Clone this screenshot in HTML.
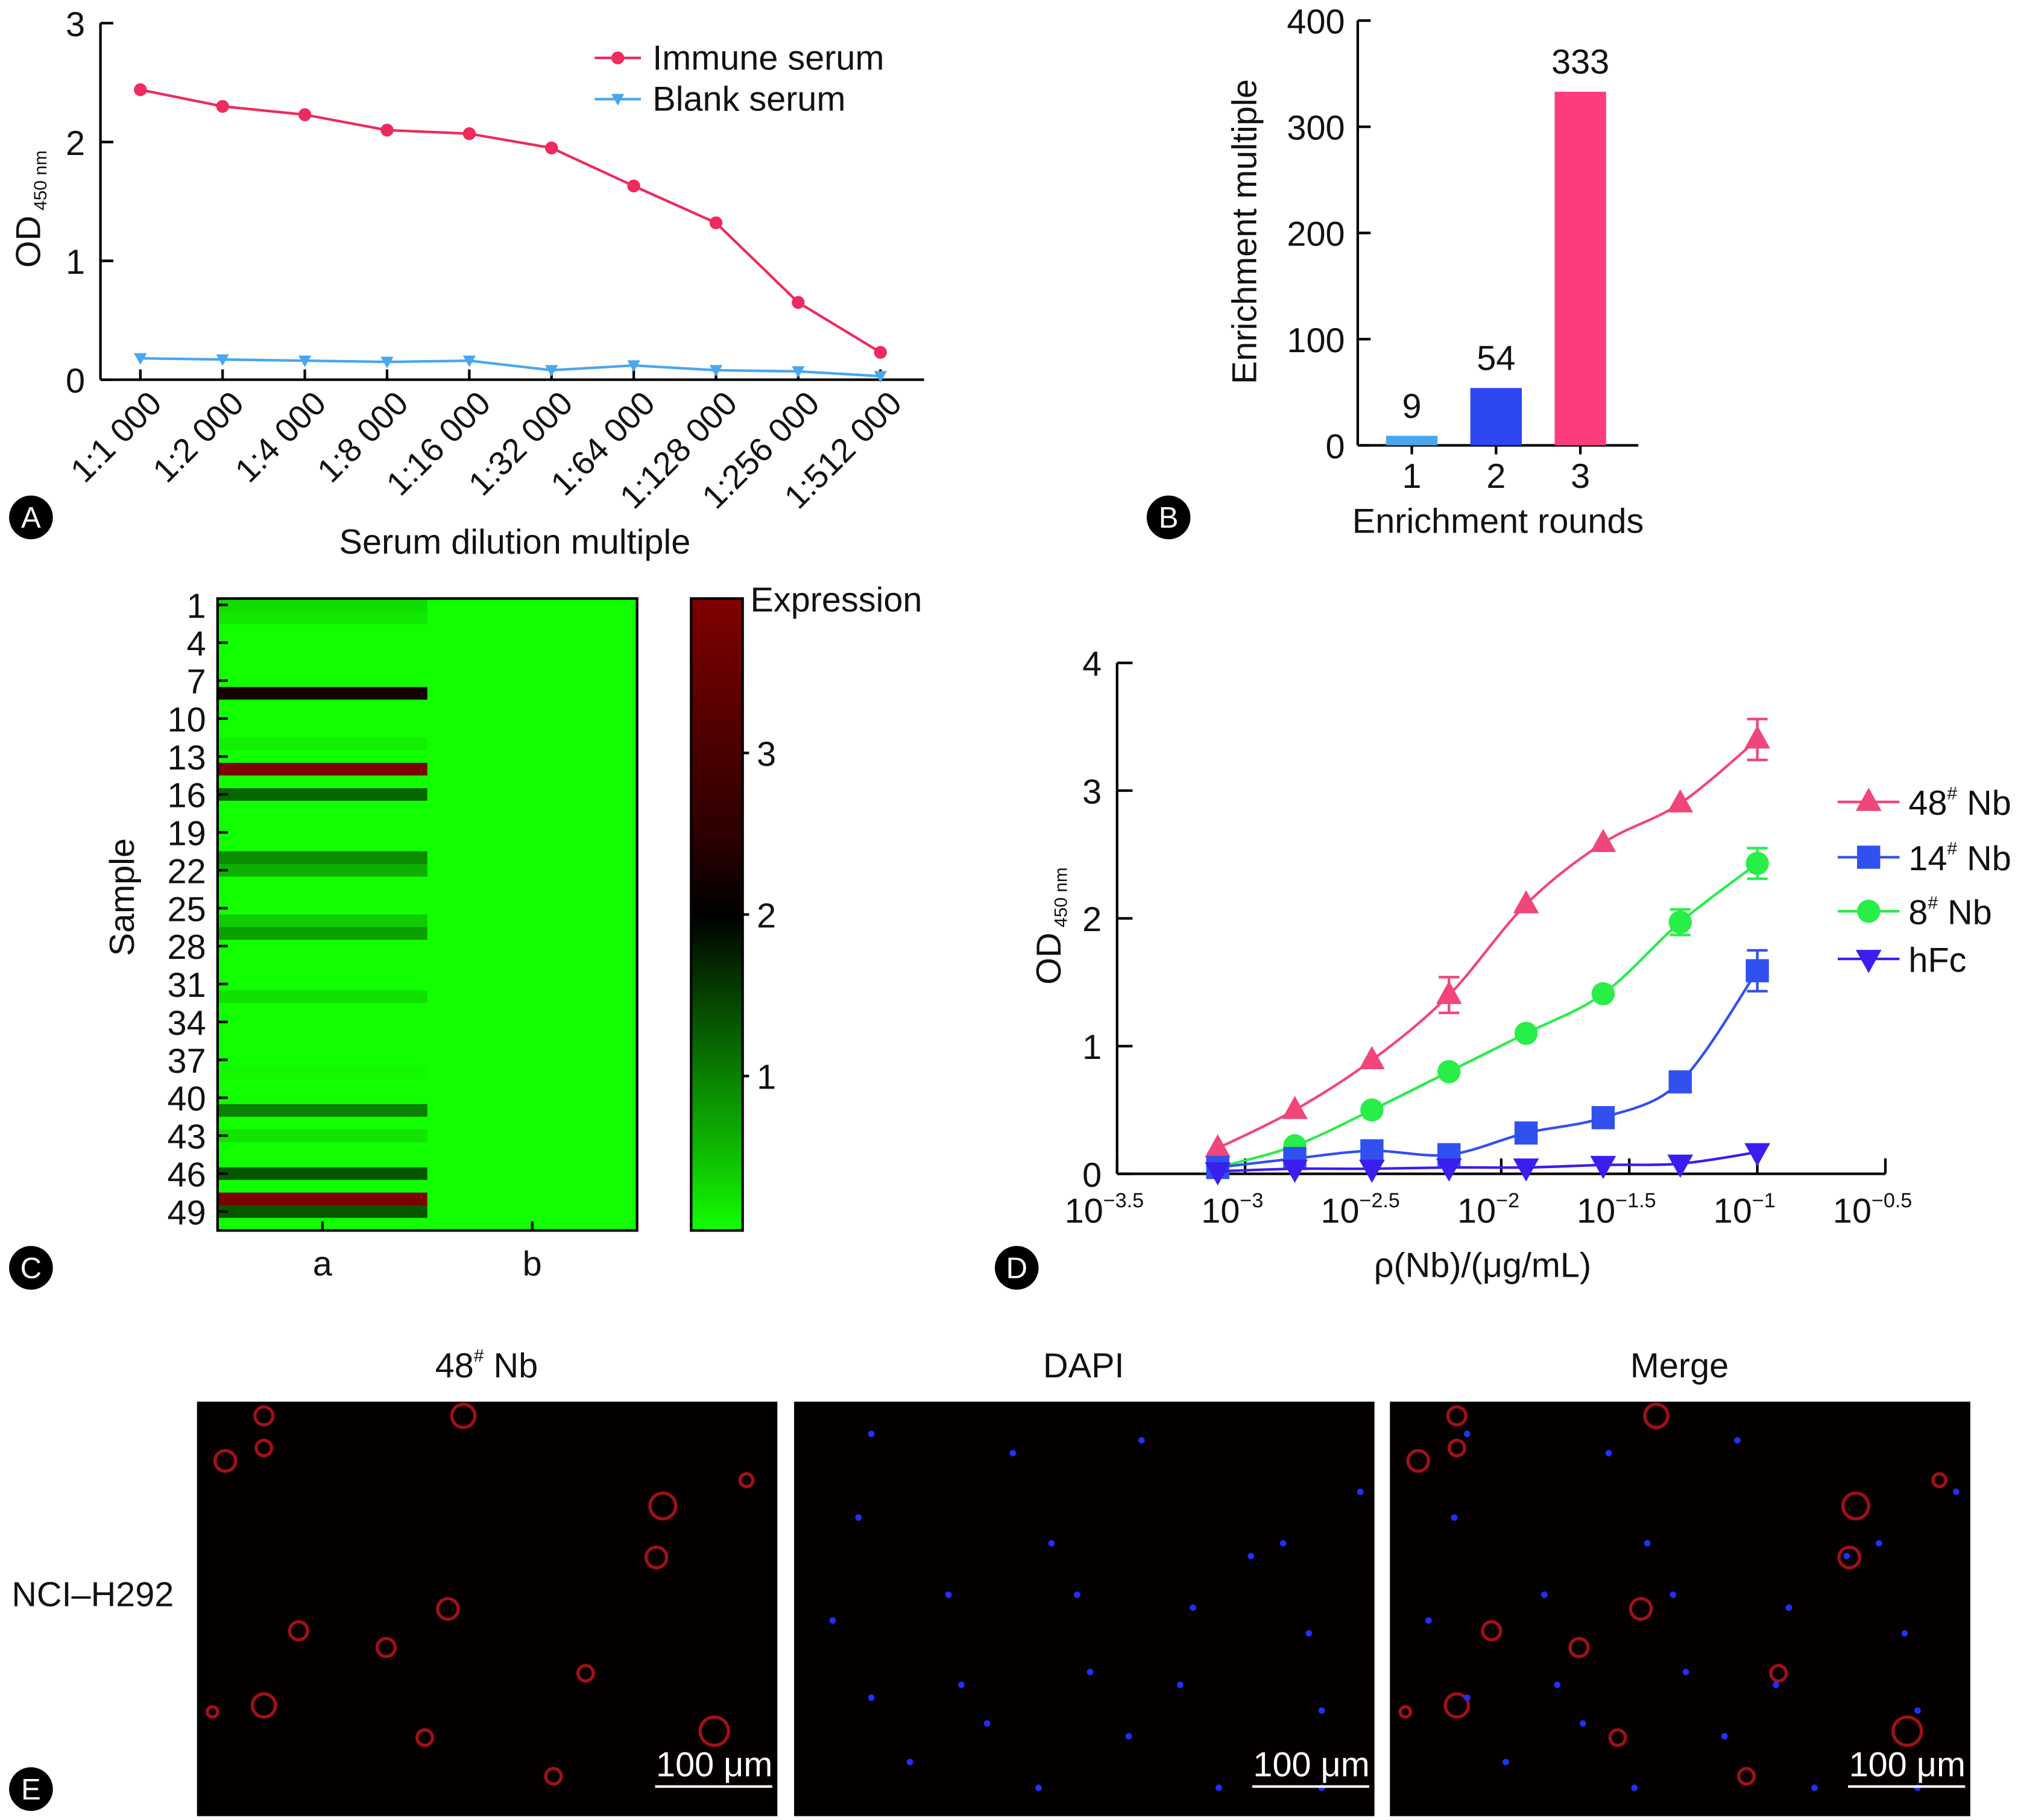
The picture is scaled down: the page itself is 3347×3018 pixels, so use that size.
<!DOCTYPE html>
<html><head><meta charset="utf-8"><style>
html,body{margin:0;padding:0;background:#fff}
svg{display:block}
text{font-family:"Liberation Sans",sans-serif;fill:#111}
</style></head><body>
<svg id="fig" width="3347" height="3018" viewBox="0 0 1568 1414" xmlns="http://www.w3.org/2000/svg"></svg>
<script>
// ---- Panel A data ----
const aCategories=["1:1 000","1:2 000","1:4 000","1:8 000","1:16 000","1:32 000","1:64 000","1:128 000","1:256 000","1:512 000"];
const aImmune=[2.44,2.30,2.23,2.10,2.07,1.95,1.63,1.32,0.65,0.23];
const aBlank=[0.18,0.17,0.16,0.15,0.16,0.08,0.12,0.08,0.07,0.03];
const aTicks=[0,1,2,3];
// ---- Panel B data ----
const bCategories=["1","2","3"];
const bValues=[9,54,333];
const bTicks=[0,100,200,300,400];
// ---- Panel C data ----
const cColumns=["a","b"];
const cRowLabels=[1,4,7,10,13,16,19,22,25,28,31,34,37,40,43,46,49];
const cExprA=[0.27,0.18,0,0,0,0,0,2.1,0,0,0,0.12,0,3.9,0,1.2,0,0,0,0,0.9,0.62,0,0,0,0.4,0.75,0,0,0,0,0.25,0,0,0,0,0,0.05,0,0,1.0,0,0.21,0,0,1.31,0,3.9,1.31,0];
const cExprB=new Array(50).fill(0);
const cBarTicks=[1,2,3];
// ---- Panel D data ----
const dLogX=[-3.107,-2.806,-2.505,-2.204,-1.903,-1.602,-1.301,-1.0];
const d48=[0.2,0.5,0.89,1.4,2.11,2.59,2.9,3.4];
const d48err=[0,0,0,0.14,0,0,0,0.16];
const d14=[0.05,0.12,0.18,0.15,0.32,0.44,0.72,1.59];
const d14err=[0,0,0,0,0,0,0,0.16];
const d8=[0.05,0.22,0.5,0.8,1.1,1.41,1.97,2.43];
const d8err=[0,0,0,0,0,0,0.1,0.12];
const dHfc=[0.02,0.04,0.04,0.05,0.05,0.07,0.08,0.17];
const dYTicks=[0,1,2,3,4];
const dXTicks=[-3.5,-3,-2.5,-2,-1.5,-1,-0.5];
const dXTickLabels=["−3.5","−3","−2.5","−2","−1.5","−1","−0.5"];

const NS="http://www.w3.org/2000/svg";
const svg=document.getElementById('fig');
function el(tag,attrs,parent,txt){const e=document.createElementNS(NS,tag);for(const k in attrs)e.setAttribute(k,attrs[k]);if(txt!==undefined)e.textContent=txt;(parent||svg).appendChild(e);return e;}
function grp(name){const g=el('g',{});return g;}
function smooth(pts){let d=`M${pts[0][0]},${pts[0][1]}`;for(let i=0;i<pts.length-1;i++){const p0=pts[i-1]||pts[i],p1=pts[i],p2=pts[i+1],p3=pts[i+2]||p2;d+=` C${p1[0]+(p2[0]-p0[0])/6},${p1[1]+(p2[1]-p0[1])/6} ${p2[0]-(p3[0]-p1[0])/6},${p2[1]-(p3[1]-p1[1])/6} ${p2[0]},${p2[1]}`;}return d;}
function badge(x,y,l,name){const g=grp(name);el('circle',{cx:x,cy:y,r:17,fill:'#000'},g);const t=el('text',{x:x,y:y+8,'text-anchor':'middle','font-size':23,style:'fill:#fff'},g,l);}

// ===== Panel A =====
(function(){
const g=grp('panel-a');
const x0=78,x1=718,yb=295,yt=18;
const xs=i=>109+i*63.9, ys=v=>yb-(v/3)*(yb-yt);
el('line',{x1:x0,y1:yt,x2:x0,y2:yb,stroke:'#000','stroke-width':2},g);
el('line',{x1:x0,y1:yb,x2:x1,y2:yb,stroke:'#000','stroke-width':2},g);
aTicks.forEach(v=>{el('line',{x1:x0,x2:x0+10,y1:ys(v),y2:ys(v),stroke:'#000','stroke-width':2},g);const t=el('text',{x:x0-12,y:ys(v)+10,'text-anchor':'end','font-size':27},g,v);});
aCategories.forEach((c,i)=>{el('line',{x1:xs(i),x2:xs(i),y1:yb,y2:yb-8,stroke:'#000','stroke-width':2},g);const t=el('text',{x:0,y:0,'text-anchor':'end','font-size':26,transform:`translate(${xs(i)+18},${yb+20}) rotate(-45)`},g,c);});
const yl=el('text',{x:0,y:0,'font-size':27,transform:'translate(31,208) rotate(-90)'},g);
yl.innerHTML='OD<tspan font-size="14" dy="5" dx="4">450 nm</tspan>';
const xt=el('text',{x:400,y:430,'text-anchor':'middle','font-size':27},g,'Serum dilution multiple');
const lp=el('polyline',{points:aImmune.map((v,i)=>xs(i)+','+ys(v)).join(' '),fill:'none',stroke:'#ee2a5e','stroke-width':2},g);
aImmune.forEach((v,i)=>{const c=el('circle',{cx:xs(i),cy:ys(v),r:5,fill:'#ee2a5e'},g);});
const lb=el('polyline',{points:aBlank.map((v,i)=>xs(i)+','+ys(v)).join(' '),fill:'none',stroke:'#4aa6ee','stroke-width':2},g);
aBlank.forEach((v,i)=>{const x=xs(i),y=ys(v);const p=el('polygon',{points:`${x-5},${y-4} ${x+5},${y-4} ${x},${y+5}`,fill:'#4aa6ee'},g);});
const lg=grp('a-legend');
el('line',{x1:462,x2:498,y1:45,y2:45,stroke:'#ee2a5e','stroke-width':2},lg);el('circle',{cx:480,cy:45,r:5,fill:'#ee2a5e'},lg);
el('text',{x:507,y:54,'font-size':27},lg,'Immune serum');
el('line',{x1:462,x2:498,y1:77,y2:77,stroke:'#4aa6ee','stroke-width':2},lg);el('polygon',{points:'475,73 485,73 480,82',fill:'#4aa6ee'},lg);
el('text',{x:507,y:86,'font-size':27},lg,'Blank serum');
})();
badge(24,402,'A','badge-a');

// ===== Panel B =====
(function(){
const g=grp('panel-b');
const x0=1055,x1=1273,yb=346,yt=16;
const ys=v=>yb-v/400*(yb-yt);const xs=i=>1097+i*65.5;
el('line',{x1:x0,y1:yt,x2:x0,y2:yb,stroke:'#000','stroke-width':2},g);
el('line',{x1:x0,y1:yb,x2:x1,y2:yb,stroke:'#000','stroke-width':2},g);
bTicks.forEach(v=>{el('line',{x1:x0,x2:x0+10,y1:ys(v),y2:ys(v),stroke:'#000','stroke-width':2},g);const t=el('text',{x:x0-10,y:ys(v)+10,'text-anchor':'end','font-size':27},g,v);});
const cols=['#4aa6ee','#2c46f2','#fd3c7c'];
bValues.forEach((v,i)=>{const r=el('rect',{x:xs(i)-20,y:ys(v),width:40,height:yb-ys(v),fill:cols[i]},g);
const t=el('text',{x:xs(i),y:ys(v)-14,'text-anchor':'middle','font-size':27},g,v);
el('line',{x1:xs(i),x2:xs(i),y1:yb,y2:yb+7,stroke:'#000','stroke-width':2},g);
const c=el('text',{x:xs(i),y:yb+33,'text-anchor':'middle','font-size':27},g,bCategories[i]);});
const xt=el('text',{x:1164,y:414,'text-anchor':'middle','font-size':27},g,'Enrichment rounds');
const yt2=el('text',{x:0,y:0,'text-anchor':'middle','font-size':27,transform:'translate(976,180) rotate(-90)'},g,'Enrichment multiple');
})();
badge(908,402,'B','badge-b');

// ===== Panel C =====
function exprColor(v){if(v<=2){const f=1-v/2;return `rgb(${Math.round(18*f)},${Math.round(255*f)},0)`;}const f=Math.min(1,(v-2)/1.96);return `rgb(${Math.round(16+112*f)},0,0)`;}
(function(){
const g=grp('panel-c');
const x0=169,xm=332,x1=495,y0=465,y1=956,rh=(y1-y0)/50;
[cExprA,cExprB].forEach((arr,ci)=>{arr.forEach((v,i)=>{const r=el('rect',{x:ci?xm:x0,y:y0+i*rh,width:xm-x0+0.5,height:rh+0.4,fill:exprColor(v)},g);});});
el('rect',{x:x0,y:y0,width:x1-x0,height:y1-y0,fill:'none',stroke:'#000','stroke-width':2},g);
cRowLabels.forEach(n=>{const y=y0+(n-1)*rh+rh/2;el('line',{x1:x0,x2:x0+8,y1:y,y2:y,stroke:'#000','stroke-width':2},g);const t=el('text',{x:x0-9,y:y+10,'text-anchor':'end','font-size':27},g,n);});
cColumns.forEach((c,i)=>{const x=i?(xm+x1)/2:(x0+xm)/2;el('line',{x1:x,x2:x,y1:y1,y2:y1-7,stroke:'#000','stroke-width':2},g);const t=el('text',{x:x,y:991,'text-anchor':'middle','font-size':27},g,c);});
const yt=el('text',{x:0,y:0,'text-anchor':'middle','font-size':27,transform:'translate(104,697) rotate(-90)'},g,'Sample');
// colorbar
const defs=el('defs',{},g);const lgd=el('linearGradient',{id:'cb',x1:0,y1:1,x2:0,y2:0},defs);
const cb0=961.5,cbu=125.5,cbTop=465,cbBot=956;
[0,0.5,1,1.5,2,2.5,3,3.5,3.96].forEach(v=>{const off=(cb0-v*cbu-cbBot)/(cbTop-cbBot);el('stop',{offset:Math.max(0,Math.min(1,off)),'stop-color':exprColor(v)},lgd);});
const cb=el('rect',{x:537,y:cbTop,width:40,height:cbBot-cbTop,fill:'url(#cb)',stroke:'#000','stroke-width':2},g);
cBarTicks.forEach(v=>{const y=cb0-v*cbu;el('line',{x1:577,x2:582,y1:y,y2:y,stroke:'#000','stroke-width':2},g);const t=el('text',{x:588,y:y+10,'font-size':27},g,v);});
const ct=el('text',{x:583,y:475,'font-size':27},g,'Expression');
})();
badge(24,985,'C','badge-c');

// ===== Panel D =====
(function(){
const g=grp('panel-d');
const x0=868,x1=1465,yb=912,yt=515;
const xs=l=>x0+(l+3.5)/3*(x1-x0), ys=v=>yb-v/4*(yb-yt);
el('line',{x1:x0,y1:yt,x2:x0,y2:yb,stroke:'#000','stroke-width':2},g);
el('line',{x1:x0,y1:yb,x2:x1,y2:yb,stroke:'#000','stroke-width':2},g);
dYTicks.forEach(v=>{el('line',{x1:x0,x2:x0+12,y1:ys(v),y2:ys(v),stroke:'#000','stroke-width':2},g);const t=el('text',{x:x0-12,y:ys(v)+10,'text-anchor':'end','font-size':27},g,v);});
dXTicks.forEach((l,i)=>{el('line',{x1:xs(l),x2:xs(l),y1:yb,y2:yb-12,stroke:'#000','stroke-width':2},g);const t=el('text',{x:xs(l)-10,y:yb+38,'text-anchor':'middle','font-size':27},g);t.innerHTML='10<tspan font-size="16" dy="-12">'+dXTickLabels[i]+'</tspan>';});
const yl=el('text',{x:0,y:0,'font-size':27,transform:'translate(824,765) rotate(-90)'},g);
yl.innerHTML='OD<tspan font-size="14" dy="5" dx="4">450 nm</tspan>';
const xt=el('text',{x:1152,y:992,'text-anchor':'middle','font-size':27},g,'ρ(Nb)/(μg/mL)');
function marker(p,x,y,c){if(p==='tri')return el('polygon',{points:`${x},${y-11} ${x-10},${y+7} ${x+10},${y+7}`,fill:c},g);if(p==='sq')return el('rect',{x:x-9,y:y-9,width:18,height:18,fill:c},g);if(p==='circ')return el('circle',{cx:x,cy:y,r:9,fill:c},g);return el('polygon',{points:`${x-10},${y-7} ${x+10},${y-7} ${x},${y+11}`,fill:c},g);}
const series=[[d48,d48err,'#f2457a','tri','48'],[d8,d8err,'#28ee48','circ','8'],[d14,d14err,'#3050f0','sq','14'],[dHfc,null,'#3a1ef0','itri','hfc']];
series.forEach(([vals,err,c,m,nm])=>{const pts=vals.map((v,i)=>[xs(dLogX[i]),ys(v)]);const p=el('path',{d:smooth(pts),fill:'none',stroke:c,'stroke-width':2},g);
vals.forEach((v,i)=>{const x=xs(dLogX[i]),y=ys(v);if(err&&err[i]){const e=err[i];el('path',{d:`M${x},${ys(v+e)}V${ys(v-e)}M${x-8},${ys(v+e)}H${x+8}M${x-8},${ys(v-e)}H${x+8}`,stroke:c,'stroke-width':2,fill:'none'},g);}const mk=marker(m,x,y,c);});});
const lg=grp('d-legend');
[['48','#f2457a','tri',623],['14','#3050f0','sq',666],['8','#28ee48','circ',708],['hfc','#3a1ef0','itri',745]].forEach(([n,c,m,y])=>{el('line',{x1:1428,x2:1476,y1:y,y2:y,stroke:c,'stroke-width':2},lg);const mk=marker(m,1452,y,c);lg.appendChild(mk);
const t=el('text',{x:1483,y:y+10,'font-size':27},lg);if(n==='hfc')t.textContent='hFc';else t.innerHTML=n+'<tspan font-size="14" dy="-12">#</tspan><tspan dy="12"> Nb</tspan>';});
})();
badge(790,985,'D','badge-d');

// ===== Panel E =====
(function(){
const g=grp('panel-e');
const panels=[[153,'48# Nb','nb'],[617,'DAPI','dapi'],[1080,'Merge','merge']];
const red=[[205,1100,7],[175,1135,8],[205,1125,6],[360,1100,9],[515,1170,10],[510,1210,8],[348,1250,8],[232,1267,7],[165,1330,4],[205,1325,9],[555,1345,11],[455,1300,6],[330,1350,6],[580,1150,5],[430,1380,6],[300,1280,7]];
const blue=[[60,25],[200,110],[355,120],[270,30],[310,160],[130,220],[230,210],[400,180],[90,280],[190,300],[330,300],[410,240],[170,40],[440,70],[30,170],[260,260],[120,150],[50,90],[380,110],[300,220],[150,250],[220,150],[410,300],[60,230]];
panels.forEach(([x,title,nm],pi)=>{const r=el('rect',{x:x,y:1089,width:451,height:322,fill:'#050000'},g);
if(pi!==1)red.forEach(([cx,cy,rr])=>{const ox=(pi===2?x-153:0);el('circle',{cx:cx+ox,cy:cy,r:rr,fill:'none',stroke:'#c8141e','stroke-width':2.5,opacity:0.8},g);});
if(pi!==0)blue.forEach(([bx,by])=>{el('circle',{cx:x+bx,cy:1089+by,r:2.5,fill:'#2030ff'},g);});
const t=el('text',{x:x+225,y:1070,'text-anchor':'middle','font-size':27},g);
if(pi===0)t.innerHTML='48<tspan font-size="14" dy="-12">#</tspan><tspan dy="12"> Nb</tspan>';else t.textContent=title;
const sb=el('text',{x:x+402,y:1380,'text-anchor':'middle','font-size':27,style:'fill:#fff'},g,'100 μm');
el('line',{x1:x+356,x2:x+447,y1:1388,y2:1388,stroke:'#fff','stroke-width':2},g);});
const rl=el('text',{x:72,y:1248,'text-anchor':'middle','font-size':27},g,'NCI–H292');
})();
badge(24,1390,'E','badge-e');
</script>
</body></html>
